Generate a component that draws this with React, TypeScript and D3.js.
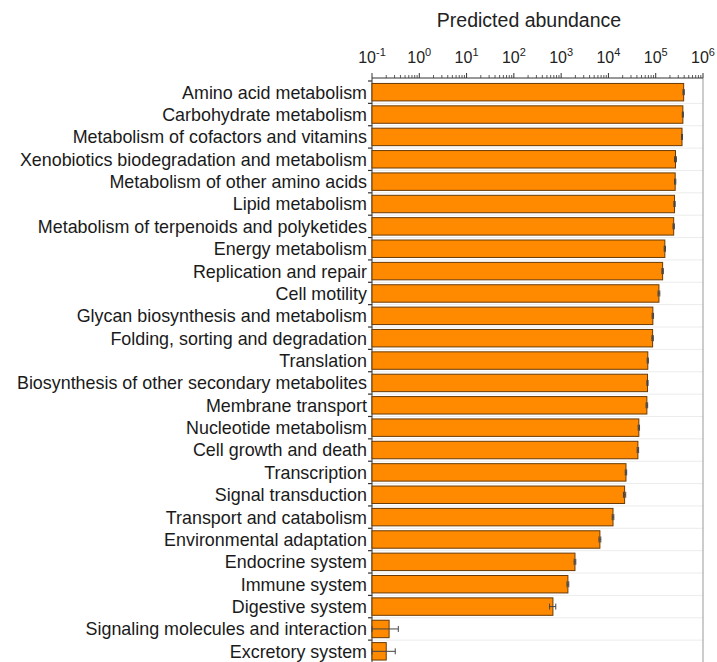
import React from "react";
import * as d3 from "d3";

const categories = [
  "Amino acid metabolism",
  "Carbohydrate metabolism",
  "Metabolism of cofactors and vitamins",
  "Xenobiotics biodegradation and metabolism",
  "Metabolism of other amino acids",
  "Lipid metabolism",
  "Metabolism of terpenoids and polyketides",
  "Energy metabolism",
  "Replication and repair",
  "Cell motility",
  "Glycan biosynthesis and metabolism",
  "Folding, sorting and degradation",
  "Translation",
  "Biosynthesis of other secondary metabolites",
  "Membrane transport",
  "Nucleotide metabolism",
  "Cell growth and death",
  "Transcription",
  "Signal transduction",
  "Transport and catabolism",
  "Environmental adaptation",
  "Endocrine system",
  "Immune system",
  "Digestive system",
  "Signaling molecules and interaction",
  "Excretory system",
];

const values = [
  390000, 375000, 360000, 262000, 258000, 250000, 240000, 156000, 140000,
  117000, 87000, 86000, 68000, 67000, 65000, 44000, 42000, 23500, 22000,
  12500, 6600, 1960, 1390, 670, 0.23, 0.2,
];

const errors = [
  12000, 10000, 9000, 12000, 8000, 8000, 8000, 5000, 5000, 5000, 3000, 3000,
  2000, 2000, 2500, 1500, 1500, 800, 1200, 500, 300, 80, 60, 100, 0.13, 0.11,
];

const tickExps = [-1, 0, 1, 2, 3, 4, 5, 6];

const W = 717;
const H = 662;
const x0 = 372;
const x1 = 703;
const axisY = 78;

export default function App() {
  const x = d3.scaleLog().domain([0.1, 1e6]).range([x0, x1]);
  const y = d3
    .scaleBand<string>()
    .domain(categories)
    .range([81, 662.5])
    .paddingInner(0.22)
    .paddingOuter(0.11);
  const step = y.step();

  const minor: number[] = [];
  for (let e = -1; e < 6; e++) {
    for (let m = 2; m <= 9; m++) minor.push(m * Math.pow(10, e));
  }

  const font = "'Liberation Sans', Arial, sans-serif";

  return (
    <svg
      width={W}
      height={H}
      style={{ position: "absolute", left: 0, top: 0 }}
      fontFamily={font}
    >
      <rect width={W} height={H} fill="#fff" />
      <text x={529} y={27} textAnchor="middle" fontSize={19.5} fill="#222">
        Predicted abundance
      </text>

      {/* gridlines */}
      {categories.map((c, i) =>
        i > 0 ? (
          <line
            key={"g" + c}
            x1={x0}
            x2={x1}
            y1={(y(c) as number) - (step - y.bandwidth()) / 2}
            y2={(y(c) as number) - (step - y.bandwidth()) / 2}
            stroke="#ececec"
            strokeWidth={1}
          />
        ) : null
      )}

      {/* frame right */}
      <line x1={x1} x2={x1} y1={axisY} y2={H} stroke="#999" strokeWidth={1} />

      {/* top axis */}
      <line x1={x0} x2={x1} y1={axisY} y2={axisY} stroke="#333" strokeWidth={1} />
      {minor.map((v, i) => (
        <line
          key={"m" + i}
          x1={x(v)}
          x2={x(v)}
          y1={axisY}
          y2={axisY - 3}
          stroke="#333"
          strokeWidth={0.8}
        />
      ))}
      {tickExps.map((e) => (
        <g key={"t" + e}>
          <line
            x1={x(Math.pow(10, e))}
            x2={x(Math.pow(10, e))}
            y1={axisY}
            y2={axisY - 5}
            stroke="#333"
            strokeWidth={1}
          />
          <text
            x={x(Math.pow(10, e))}
            y={63}
            textAnchor="middle"
            fontSize={16}
            fill="#222"
          >
            10
            <tspan dy={-7} fontSize={11}>
              {e}
            </tspan>
          </text>
        </g>
      ))}

      {/* left axis */}
      <line x1={x0} x2={x0} y1={axisY} y2={H} stroke="#333" strokeWidth={1} />
      {categories.map((c, i) => (
        <line
          key={"lt" + c}
          x1={x0 - 4}
          x2={x0}
          y1={(y(c) as number) - (step - y.bandwidth()) / 2}
          y2={(y(c) as number) - (step - y.bandwidth()) / 2}
          stroke="#333"
          strokeWidth={1.2}
        />
      ))}

      {/* bars */}
      {categories.map((c, i) => {
        const by = y(c) as number;
        const bh = y.bandwidth();
        const xe = x(values[i]);
        const lo = Math.max(values[i] - errors[i], 0.1);
        const hi = values[i] + errors[i];
        const cy = by + bh / 2;
        return (
          <g key={"b" + c}>
            <rect
              x={x0}
              y={by}
              width={xe - x0}
              height={bh}
              fill="#FF8A00"
              stroke="#6a3a05"
              strokeWidth={1}
            />
            <line x1={x(lo)} x2={x(hi)} y1={cy} y2={cy} stroke="#444" strokeWidth={1} />
            <line x1={x(hi)} x2={x(hi)} y1={cy - 3} y2={cy + 3} stroke="#444" strokeWidth={1} />
            <line x1={x(lo)} x2={x(lo)} y1={cy - 3} y2={cy + 3} stroke="#444" strokeWidth={1} />
            <text
              x={x0 - 5}
              y={cy}
              dy="0.36em"
              textAnchor="end"
              fontSize={17.9}
              fill="#1a1a1a"
            >
              {c}
            </text>
          </g>
        );
      })}
    </svg>
  );
}
